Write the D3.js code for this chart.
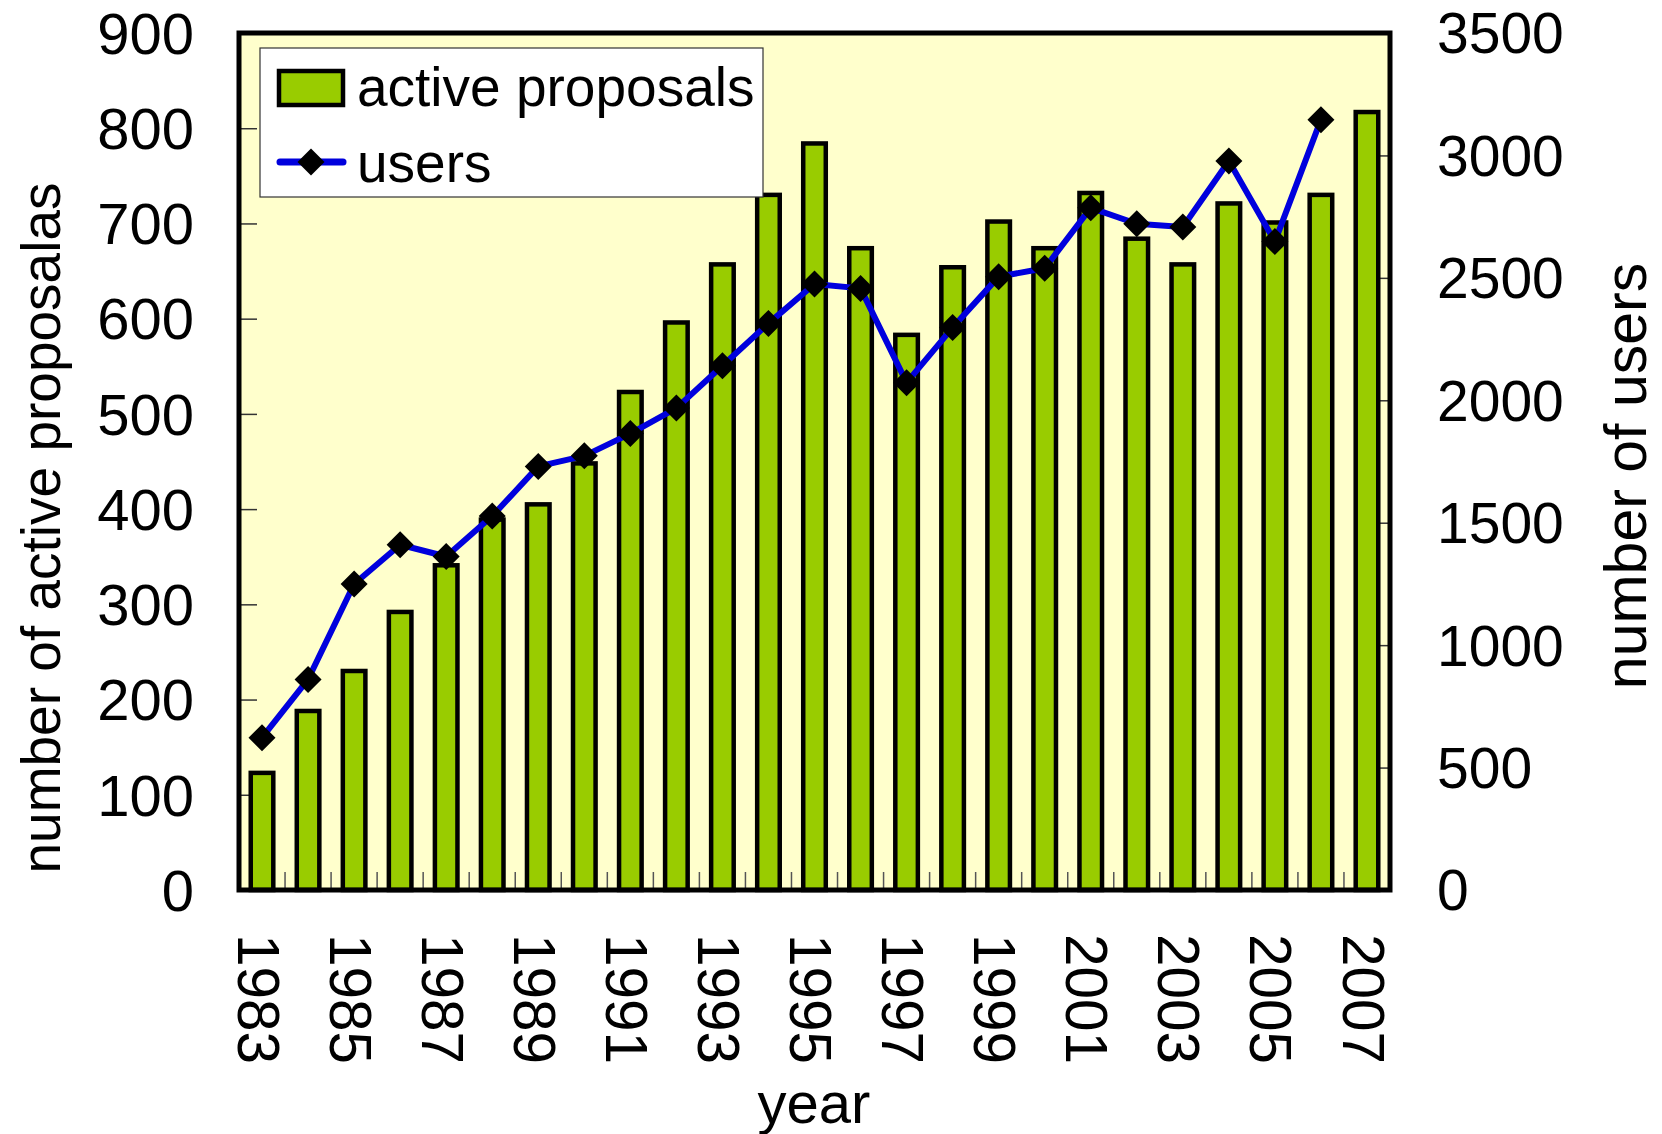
<!DOCTYPE html>
<html>
<head>
<meta charset="utf-8">
<script src="https://cdn.jsdelivr.net/npm/d3@7/dist/d3.min.js"></script>
<style>
  html, body { margin: 0; padding: 0; background: #ffffff; }
  svg { display: block; }
  text { font-family: "Liberation Sans", Arial, sans-serif; fill: #000; }
</style>
</head>
<body>
<svg id="chart" width="1662" height="1134"></svg>
<script>
// ---- data ----
const years = [1983,1984,1985,1986,1987,1988,1989,1990,1991,1992,1993,1994,1995,1996,1997,1998,1999,2000,2001,2002,2003,2004,2005,2006,2007];
const activeProposals = [123,188,230,292,341,389,405,448,523,596,657,730,784,674,583,654,702,674,732,684,657,721,701,730,817];
const users = [622,860,1250,1410,1362,1527,1730,1773,1864,1968,2141,2314,2475,2457,2072,2297,2505,2539,2786,2721,2708,2977,2648,3146,null];
const leftTicks = [0,100,200,300,400,500,600,700,800,900];
const rightTicks = [0,500,1000,1500,2000,2500,3000,3500];
const yearLabels = [1983,1985,1987,1989,1991,1993,1995,1997,1999,2001,2003,2005,2007];
const seriesNames = ["active proposals", "users"];
const axisTitles = { x: "year", yLeft: "number of active proposalas", yRight: "number of users" };

// ---- layout ----
const L = 239, R = 1390, T = 33, B = 890;
const svg = d3.select("#chart");

const x = d3.scaleBand().domain(years).range([L, R]).paddingInner(0).paddingOuter(0);
const yL = d3.scaleLinear().domain([0, 900]).range([B, T]);
const yR = d3.scaleLinear().domain([0, 3500]).range([B, T]);

// plot background
svg.append("rect").attr("x", L).attr("y", T).attr("width", R - L).attr("height", B - T)
  .attr("fill", "#FFFFCC");

// inner ticks: left axis
const leftAxis = d3.axisRight(yL).tickValues(leftTicks).tickSize(18).tickFormat("");
svg.append("g").attr("transform", `translate(${L},0)`).call(leftAxis)
  .call(g => g.select(".domain").remove())
  .call(g => g.selectAll("line").attr("stroke", "#333").attr("stroke-width", 1.5));

// inner ticks: right axis
const rightAxis = d3.axisLeft(yR).tickValues(rightTicks).tickSize(18).tickFormat("");
svg.append("g").attr("transform", `translate(${R},0)`).call(rightAxis)
  .call(g => g.select(".domain").remove())
  .call(g => g.selectAll("line").attr("stroke", "#333").attr("stroke-width", 1.5));

// category boundary ticks on x axis
const boundaries = years.slice(1).map(yv => x(yv));
svg.append("g").selectAll("line").data(boundaries).join("line")
  .attr("x1", d => d).attr("x2", d => d).attr("y1", B - 18).attr("y2", B)
  .attr("stroke", "#555").attr("stroke-width", 1.5);

// bars
const bw = x.bandwidth() * 0.49;
svg.append("g").selectAll("rect").data(years.map((yv, i) => ({ yv, v: activeProposals[i] })))
  .join("rect")
  .attr("x", d => x(d.yv) + x.bandwidth() / 2 - bw / 2)
  .attr("y", d => yL(d.v))
  .attr("width", bw)
  .attr("height", d => B - yL(d.v))
  .attr("fill", "#99CC00")
  .attr("stroke", "#000")
  .attr("stroke-width", 4.5);

// line
const pts = years.map((yv, i) => ({ yv, u: users[i] })).filter(d => d.u != null);
const line = d3.line().x(d => x(d.yv) + x.bandwidth() / 2).y(d => yR(d.u));
svg.append("path").datum(pts).attr("d", line)
  .attr("fill", "none").attr("stroke", "#0000DD").attr("stroke-width", 6)
  .attr("stroke-linejoin", "round");

const diamond = "M0,-13.5L13.5,0L0,13.5L-13.5,0Z";
svg.append("g").selectAll("path").data(pts).join("path")
  .attr("d", diamond)
  .attr("transform", d => `translate(${x(d.yv) + x.bandwidth() / 2},${yR(d.u)})`)
  .attr("fill", "#000");

// frame
svg.append("rect").attr("x", L).attr("y", T).attr("width", R - L).attr("height", B - T)
  .attr("fill", "none").attr("stroke", "#000").attr("stroke-width", 5);

// left tick labels
svg.append("g").selectAll("text").data(leftTicks).join("text")
  .attr("x", 194).attr("y", d => yL(d)).attr("dy", "0.358em")
  .attr("text-anchor", "end").attr("font-size", 58)
  .text(d => d);

// right tick labels
svg.append("g").selectAll("text").data(rightTicks).join("text")
  .attr("x", 1437).attr("y", d => yR(d)).attr("dy", "0.358em")
  .attr("text-anchor", "start").attr("font-size", 57)
  .text(d => d);

// x tick labels (rotated)
svg.append("g").selectAll("text").data(yearLabels).join("text")
  .attr("transform", d => `translate(${x(d) + x.bandwidth() / 2 - 3.5},934) rotate(90)`)
  .attr("dy", "0.358em")
  .attr("text-anchor", "start").attr("font-size", 58.5)
  .text(d => d);

// axis titles
svg.append("text").attr("x", 814).attr("y", 1123).attr("text-anchor", "middle")
  .attr("font-size", 58).text(axisTitles.x);
svg.append("text").attr("transform", "translate(60,528) rotate(-90)")
  .attr("text-anchor", "middle").attr("font-size", 55).text(axisTitles.yLeft);
svg.append("text").attr("transform", "translate(1646,476) rotate(-90)")
  .attr("text-anchor", "middle").attr("font-size", 59).text(axisTitles.yRight);

// legend
const lg = svg.append("g");
lg.append("rect").attr("x", 260).attr("y", 48).attr("width", 503).attr("height", 149)
  .attr("fill", "#fff").attr("stroke", "#333").attr("stroke-width", 1.2);
lg.append("rect").attr("x", 279).attr("y", 71).attr("width", 64).attr("height", 34)
  .attr("fill", "#99CC00").attr("stroke", "#000").attr("stroke-width", 4.5);
lg.append("text").attr("x", 357).attr("y", 106).attr("font-size", 55).text(seriesNames[0]);
lg.append("line").attr("x1", 280).attr("x2", 343).attr("y1", 162).attr("y2", 162)
  .attr("stroke", "#0000DD").attr("stroke-width", 7).attr("stroke-linecap", "round");
lg.append("path").attr("d", diamond).attr("transform", "translate(311,162)").attr("fill", "#000");
lg.append("text").attr("x", 357).attr("y", 182).attr("font-size", 55).text(seriesNames[1]);
</script>
</body>
</html>
